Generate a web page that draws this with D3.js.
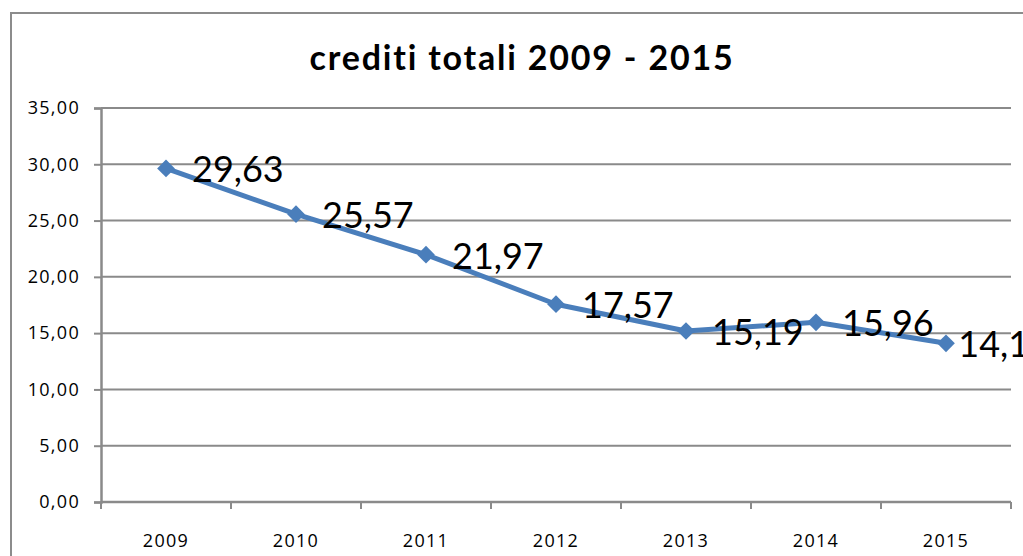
<!DOCTYPE html>
<html>
<head>
<meta charset="utf-8">
<script src="https://cdn.jsdelivr.net/npm/d3@7"></script>
<style>
  body { margin: 0; background: #fff; overflow: hidden; }
  #wrap { position: relative; width: 1023px; height: 556px; overflow: hidden; }
  #frame {
    position: absolute; left: 10px; top: 12px; width: 1100px; height: 700px;
    border-left: 2.5px solid #8c8c8c; border-top: 2.5px solid #8c8c8c;
  }
  svg { display: block; position: absolute; left: 0; top: 0; }
</style>
</head>
<body>
<div id="wrap">
  <div id="frame"></div>
  <svg id="chart" width="1023" height="556"></svg>
</div>
<script>
const years = ["2009", "2010", "2011", "2012", "2013", "2014", "2015"];
const crediti = [29.63, 25.57, 21.97, 17.57, 15.19, 15.96, 14.1];
const yTicks = [0, 5, 10, 15, 20, 25, 30, 35];
const titleText = "crediti totali 2009 - 2015";

const svg = d3.select("#chart");
const width = 1023, height = 556;
const margin = { left: 101, right: 12, top: 108, bottom: 54 };
const chartRight = 1050;   // edge of the chart box (outside the picture)

const fmt = v => d3.format(".2f")(v).replace(".", ",");

const x = d3.scaleBand()
    .domain(years)
    .range([margin.left, width - margin.right]);

const y = d3.scaleLinear()
    .domain([0, 35])
    .range([height - margin.bottom, margin.top]);

// title
svg.append("text")
    .attr("x", 522)
    .attr("y", 70)
    .attr("text-anchor", "middle")
    .style("font-family", "Lato, 'Open Sans', sans-serif")
    .style("font-weight", "bold")
    .style("font-size", "34px")
    .style("letter-spacing", "1.8px")
    .text(titleText);

// gridlines
svg.append("g")
    .selectAll("line")
    .data(yTicks.filter(d => d > 0))
    .enter().append("line")
    .attr("x1", margin.left)
    .attr("x2", width - margin.right)
    .attr("y1", d => y(d))
    .attr("y2", d => y(d))
    .attr("stroke", "#8a8a8a")
    .attr("stroke-width", 2);

// y axis
const yAxis = svg.append("g")
    .attr("transform", `translate(${margin.left},0)`)
    .call(d3.axisLeft(y).tickValues(yTicks).tickSize(7).tickPadding(14).tickFormat(fmt));

// x axis with ticks between categories
const xAxis = svg.append("g")
    .attr("transform", `translate(0,${y(0)})`)
    .call(d3.axisBottom(x).tickSize(0).tickPadding(32));

xAxis.selectAll(".sep")
    .data(years.map(d => x(d)).concat([x(years[years.length - 1]) + x.bandwidth()]))
    .enter().append("line")
    .attr("class", "sep")
    .attr("x1", d => d).attr("x2", d => d)
    .attr("y1", 0).attr("y2", 7)
    .attr("stroke", "#8a8a8a")
    .attr("stroke-width", 2);

[yAxis, xAxis].forEach(ax => {
    ax.select(".domain").attr("stroke", "#8a8a8a").attr("stroke-width", 2.5);
    ax.selectAll(".tick line").attr("stroke", "#8a8a8a").attr("stroke-width", 2);
    ax.selectAll("text")
        .attr("fill", "#000")
        .style("font-family", "'Open Sans', sans-serif")
        .style("font-size", "18px")
        .style("letter-spacing", "1.3px");
});
xAxis.select(".domain").attr("d", `M${margin.left},0H${width - margin.right}`);

// line
const cx = d => x(d) + x.bandwidth() / 2;
const line = d3.line()
    .x((d, i) => cx(years[i]))
    .y(d => y(d));

svg.append("path")
    .datum(crediti)
    .attr("d", line)
    .attr("fill", "none")
    .attr("stroke", "#4a7ebb")
    .attr("stroke-width", 5)
    .attr("stroke-linejoin", "round");

// diamond markers
svg.append("g")
    .selectAll("path")
    .data(crediti)
    .enter().append("path")
    .attr("transform", (d, i) => `translate(${cx(years[i])},${y(d)})`)
    .attr("d", d3.symbol().type(d3.symbolDiamond2).size(200))
    .attr("fill", "#4a7ebb");

// data labels
const labels = svg.append("g")
    .selectAll("text")
    .data(crediti)
    .enter().append("text")
    .attr("x", (d, i) => cx(years[i]) + 26)
    .attr("y", d => y(d) + 14)
    .style("font-family", "Lato, 'Open Sans', sans-serif")
    .style("font-size", "36px")
    .attr("fill", "#000")
    .text(fmt);

labels.each(function () {
    const b = this.getBBox();
    if (b.x + b.width > chartRight) {
        d3.select(this).attr("x", chartRight - b.width);
    }
});
</script>
</body>
</html>
